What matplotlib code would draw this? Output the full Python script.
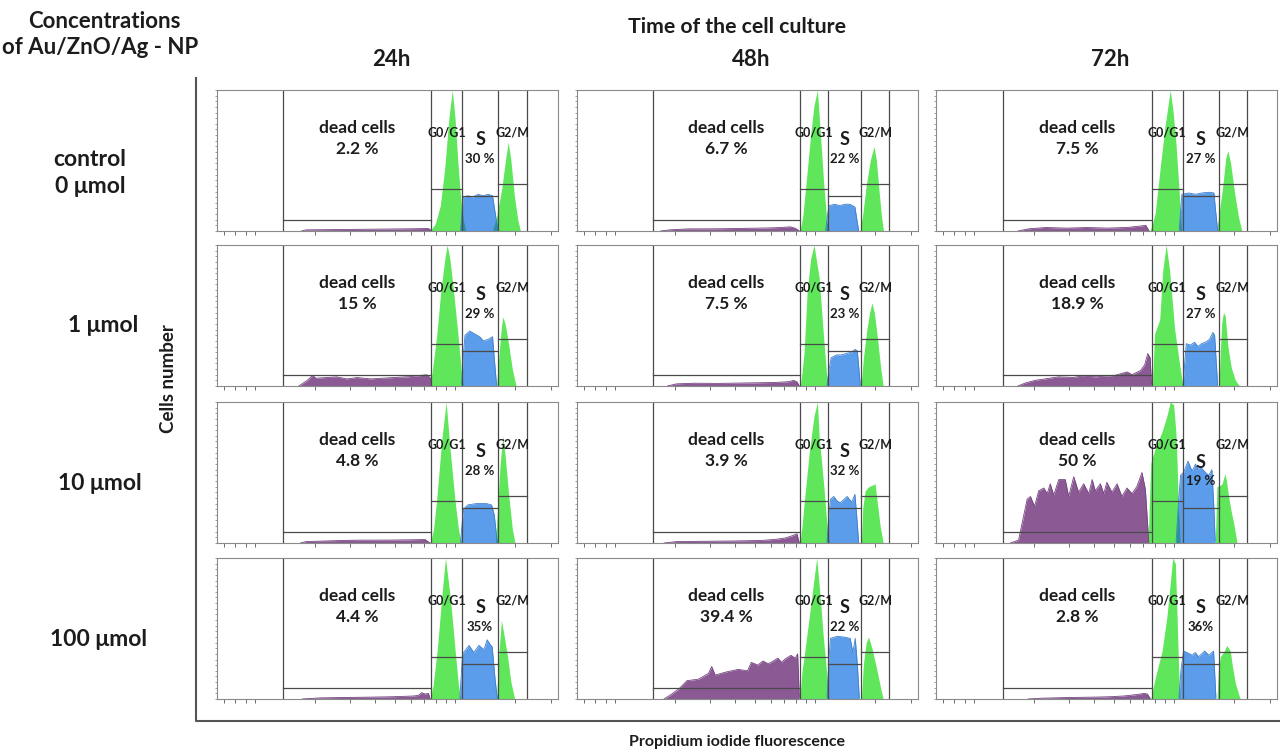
import numpy as np
import matplotlib.pyplot as plt
from matplotlib.lines import Line2D

plt.rcParams['font.family'] = ['Lato', 'DejaVu Sans']
plt.rcParams['font.weight'] = 'bold'

times = ['24h', '48h', '72h']
doses = ['control\n0 \u03bcmol', '1 \u03bcmol', '10 \u03bcmol', '100 \u03bcmol']

dead_labels = {'24h': ['2.2 %', '15 %', '4.8 %', '4.4 %'],
               '48h': ['6.7 %', '7.5 %', '3.9 %', '39.4 %'],
               '72h': ['7.5 %', '18.9 %', '50 %', '2.8 %']}
s_labels = {'24h': ['30 %', '29 %', '28 %', '35%'],
            '48h': ['22 %', '23 %', '32 %', '22 %'],
            '72h': ['27 %', '27 %', '19 %', '36%']}

# gate borders in channels: dead | G0/G1 | S | G2/M | end
gates = {'24h': [193, 628, 719, 824, 908],
         '48h': [222, 655, 736, 833, 916],
         '72h': [197, 632, 724, 829, 911]}
# height of the marker bars (% of max count): dead, G0/G1, S, G2/M
marker_levels = [7.5, 30, 25, 33]

# histogram outlines (channel, % of max count), rows = control, 1, 10, 100 umol
dead_24h = [
    [(248, 0), (260, 0.8), (350, 1), (450, 1.2), (550, 1.5), (620, 1.8), (630, 0)],
    [(240, 0), (265, 4), (280, 7.5), (290, 5.5), (320, 6), (350, 6.5), (380, 5), (410, 6), (450, 5),
     (480, 5.5), (520, 6), (560, 6.5), (600, 7.5), (615, 8), (625, 6), (630, 0)],
    [(245, 0), (260, 1), (320, 1.5), (400, 2), (480, 2), (560, 2.2), (610, 2.5), (625, 0)],
    [(250, 0), (300, 0.8), (400, 1.2), (500, 1.5), (570, 2), (590, 2.5), (600, 4.5), (610, 3.5), (620, 4), (625, 0)],
]
g1_24h = [
    [(625, 0), (640, 5), (655, 18), (668, 45), (680, 80), (690, 100), (698, 80), (706, 50), (714, 25), (722, 8), (730, 0)],
    [(626, 0), (632, 12), (644, 35), (657, 69), (668, 90), (675, 100), (683, 90), (693, 69), (708, 33), (716, 12), (722, 0)],
    [(626, 0), (635, 10), (644, 30), (659, 73), (672, 100), (683, 68), (698, 30), (708, 10), (716, 0)],
    [(625, 0), (634, 10), (646, 35), (660, 75), (670, 100), (685, 70), (700, 30), (708, 10), (715, 0)],
]
s_24h = [
    [(714, 0), (718, 12), (722, 24), (735, 25), (750, 24), (765, 26), (780, 25), (795, 26), (808, 25), (815, 14), (824, 0)],
    [(717, 0), (722, 20), (727, 36), (741, 39), (755, 37), (770, 35), (781, 32), (795, 33), (808, 35), (813, 20), (820, 0)],
    [(714, 0), (718, 12), (723, 24), (735, 27), (760, 28), (790, 28), (805, 27), (813, 20), (822, 0)],
    [(712, 0), (716, 15), (720, 32), (739, 38), (753, 33), (768, 38), (783, 35), (792, 42), (800, 39), (807, 37),
     (815, 15), (822, 0)],
]
g2_24h = [
    [(808, 0), (820, 10), (835, 30), (847, 52), (854, 63), (862, 50), (872, 25), (882, 8), (890, 0)],
    [(820, 0), (828, 25), (834, 42), (838, 49), (845, 44), (855, 30), (866, 12), (877, 0)],
    [(817, 0), (823, 25), (830, 55), (838, 76), (845, 62), (855, 35), (866, 10), (874, 0)],
    [(820, 0), (826, 30), (834, 56), (842, 45), (852, 30), (862, 12), (873, 0)],
]

dead_48h = [
    [(245, 0), (270, 0.8), (320, 1.5), (400, 1.5), (480, 1.8), (550, 2), (600, 2.5), (625, 3), (640, 2), (652, 0)],
    [(265, 0), (290, 1.5), (340, 2), (400, 1.8), (460, 2), (520, 2.2), (580, 2.5), (620, 3), (635, 4), (645, 3), (652, 0)],
    [(255, 0), (290, 1), (350, 1.2), (420, 1.3), (480, 1.5), (540, 1.8), (580, 2.5), (610, 3.5), (630, 5), (645, 6.5), (652, 0)],
    [(255, 0), (275, 3), (298, 7), (322, 13), (356, 14), (385, 18), (395, 23), (405, 17), (434, 19), (472, 21),
     (500, 20), (511, 26), (530, 24), (545, 27), (560, 25), (569, 26), (589, 29), (600, 26), (608, 28), (627, 31),
     (640, 29), (647, 32), (652, 0)],
]
g1_48h = [
    [(654, 0), (662, 10), (671, 32), (685, 68), (695, 89), (705, 100), (714, 68), (724, 32), (733, 6), (739, 0)],
    [(655, 0), (660, 10), (666, 24), (675, 67), (685, 90), (695, 100), (710, 77), (724, 32), (732, 8), (739, 0)],
    [(654, 0), (660, 12), (666, 28), (681, 64), (695, 90), (705, 100), (710, 76), (724, 40), (734, 10), (740, 0)],
    [(654, 0), (660, 20), (666, 30), (681, 58), (695, 85), (703, 100), (714, 70), (722, 45), (729, 27), (739, 0)],
]
s_48h = [
    [(729, 0), (734, 10), (739, 18), (755, 19), (770, 18), (785, 19), (800, 19), (815, 17), (826, 0)],
    [(733, 0), (738, 10), (745, 20), (760, 22), (775, 22), (790, 23), (805, 24), (815, 26), (822, 25), (831, 0)],
    [(733, 0), (737, 15), (743, 31), (753, 33), (762, 30), (772, 28.5), (792, 33), (806, 29), (815, 34.5), (820, 20), (826, 0)],
    [(733, 0), (738, 25), (743, 43), (763, 44.5), (782, 44), (801, 43), (809, 33), (816, 43), (822, 25), (828, 0)],
]
g2_48h = [
    [(830, 0), (838, 12), (848, 32), (860, 50), (871, 60), (878, 50), (886, 28), (893, 10), (899, 0)],
    [(833, 0), (840, 20), (850, 40), (858, 52), (865, 59), (872, 52), (882, 32), (891, 12), (898, 0)],
    [(834, 0), (838, 25), (845, 37), (856, 40), (866, 41), (874, 42), (880, 30), (889, 12), (898, 0)],
    [(834, 0), (840, 25), (848, 40), (855, 44), (866, 35), (880, 20), (892, 6), (898, 0)],
]

dead_72h = [
    [(240, 0), (270, 1.5), (320, 2.5), (380, 2), (440, 2.5), (500, 2), (560, 2.5), (600, 3.5), (615, 4), (625, 0)],
    [(240, 0), (260, 2), (290, 4), (320, 5), (358, 6.5), (400, 6), (426, 7), (470, 6.5), (524, 7.5), (560, 10),
     (575, 8), (600, 11), (612, 15), (621, 23), (628, 20), (632, 0)],
    [(218, 0), (242, 2), (257, 19), (267, 31), (277, 33), (289, 26), (301, 37), (316, 39), (326, 35), (335, 42),
     (345, 34), (360, 45), (379, 45), (389, 33), (404, 47), (418, 36), (433, 42), (448, 35), (458, 45), (467, 37),
     (482, 42), (492, 35), (501, 43), (516, 36), (531, 42), (545, 33), (560, 39), (575, 35), (589, 40), (604, 50),
     (614, 38), (624, 0)],
    [(270, 0), (300, 0.5), (370, 1), (440, 1.2), (500, 1.5), (545, 2), (585, 3), (610, 4), (620, 3.5), (629, 0)],
]
g1_72h = [
    [(627, 0), (635, 5), (643, 13), (658, 46), (672, 75), (687, 100), (695, 85), (702, 68), (712, 32), (720, 0)],
    [(635, 0), (638, 20), (641, 37), (656, 47), (665, 82), (675, 100), (685, 82), (700, 40), (714, 16), (724, 0)],
    [(622, 0), (626, 30), (630, 57), (643, 67), (663, 79), (677, 90), (687, 100), (697, 98), (703, 80), (707, 57),
     (711, 25), (716, 0)],
    [(630, 0), (643, 15), (663, 34), (677, 58), (687, 82), (694, 100), (702, 96), (707, 58), (711, 25), (715, 0)],
]
s_72h = [
    [(713, 0), (717, 14), (721, 26), (740, 27), (760, 26), (780, 27), (800, 27.5), (815, 27), (820, 14), (826, 0)],
    [(724, 0), (729, 15), (734, 30), (746, 29), (758, 31), (768, 28), (778, 30), (790, 31), (802, 33), (812, 38),
     (817, 36), (826, 0)],
    [(704, 0), (710, 25), (717, 48), (726, 50), (739, 58), (751, 51), (761, 56), (768, 52), (775, 54), (790, 50),
     (800, 48), (809, 52), (814, 30), (819, 0)],
    [(712, 0), (718, 20), (726, 34), (736, 33), (751, 31), (760, 33), (770, 30), (788, 34), (800, 31), (814, 34),
     (817, 20), (821, 0)],
]
g2_72h = [
    [(823, 0), (830, 12), (840, 30), (850, 52), (856, 57), (864, 48), (875, 28), (887, 10), (897, 0)],
    [(830, 0), (834, 25), (838, 45), (843, 52), (848, 50), (856, 28), (866, 13), (878, 4), (890, 0)],
    [(819, 0), (822, 25), (824, 40), (834, 41), (839, 42), (847, 49), (852, 44), (858, 33), (866, 22), (873, 14), (883, 0)],
    [(824, 0), (828, 20), (834, 30), (845, 34), (853, 38), (863, 34), (870, 22), (878, 11), (892, 0)],
]

hist = {'24h': (dead_24h, g1_24h, s_24h, g2_24h),
        '48h': (dead_48h, g1_48h, s_48h, g2_48h),
        '72h': (dead_72h, g1_72h, s_72h, g2_72h)}

purple = '#8B5A95'
green = '#5FE65B'
blue = '#5B9DEA'
teal = '#2B8F9C'
dark = '#4A4A4A'
gate_col = '#4A4A4A'
ink = '#1C1C1C'

# log-amplified channel axis: decade 1 at ch 111, one decade = 587 channels
tick_vals = [0.7, 0.8, 0.9, 1, 2, 3, 4, 5, 6, 7, 8, 9, 10, 20, 30]
xticks = 111 + 587 * np.log10(tick_vals)

W, H = 1280, 753
fig = plt.figure(figsize=(W / 100, H / 100), dpi=100)

col_left = [217, 577, 936]
row_top = [90, 245, 402, 558]
pw, ph = 341, 141

grid = np.linspace(0, 1000, 4001)


def curve(pts):
    x, y = np.array(pts, dtype=float).T
    return np.interp(grid, x, y, left=0, right=0)


for c, t in enumerate(times):
    dead_all, g1_all, s_all, g2_all = hist[t]
    gt = gates[t]
    for r in range(4):
        ax = fig.add_axes([col_left[c] / W, 1 - (row_top[r] + ph) / H, pw / W, ph / H])
        d = curve(dead_all[r])
        g1 = curve(g1_all[r])
        s = curve(s_all[r])
        g2 = curve(g2_all[r])

        ax.fill_between(grid, d, color=purple, lw=0)
        ax.plot(grid, np.where(d > 0, d, np.nan), color='#74447F', lw=0.6)
        ax.fill_between(grid, g1, color=green, lw=0)
        ax.fill_between(grid, g2, color=green, lw=0)
        ax.fill_between(grid, s, color=blue, lw=0)
        ax.plot(grid, np.where(s > 0, s, np.nan), color='#3F7FCC', lw=0.6)
        ax.fill_between(grid, np.minimum(d, g1), color=dark, lw=0)
        ax.fill_between(grid, np.minimum(g1, s), color=teal, lw=0)
        ax.fill_between(grid, np.minimum(g2, s), color=teal, lw=0)

        for gx in gt:
            ax.axvline(gx, color=gate_col, lw=0.9)
        for i, lvl in enumerate(marker_levels):
            ax.plot([gt[i], gt[i + 1]], [lvl, lvl], color=gate_col, lw=0.9)

        lowered = (t == '72h' and r == 2)
        ax.text((gt[0] + gt[1]) / 2, 73, 'dead cells', ha='center', va='center', fontsize=12.5, color=ink)
        ax.text((gt[0] + gt[1]) / 2, 58, dead_labels[t][r], ha='center', va='center', fontsize=12.5, color=ink)
        ax.text((gt[1] + gt[2]) / 2, 70, 'G0/G1', ha='center', va='center', fontsize=9, color=ink)
        ax.text((gt[3] + gt[4]) / 2, 70, 'G2/M', ha='center', va='center', fontsize=9, color=ink)
        ax.text((gt[2] + gt[3]) / 2, 57 if lowered else 65, 'S', ha='center', va='center', fontsize=13, color=ink)
        ax.text((gt[2] + gt[3]) / 2, 44 if lowered else 51, s_labels[t][r], ha='center', va='center',
                fontsize=9.5, color=ink)

        ax.set_xlim(0, 1000)
        ax.set_ylim(0, 100)
        ax.set_xticks(xticks)
        ax.set_yticks(np.arange(0, 101, 4))
        ax.tick_params(axis='x', length=3, width=0.6, color='#555555', labelbottom=False)
        ax.tick_params(axis='y', length=1.5, width=0.5, color='#777777', labelleft=False)
        for sp in ax.spines.values():
            sp.set_color('#8A8A8A')
            sp.set_linewidth(0.8)

# outer L frame
fig.add_artist(Line2D([196 / W, 196 / W, 1.0], [1 - 78 / H, 1 - 721 / H, 1 - 721 / H],
                      color='#555555', lw=1.5))

fig.text(104 / W, 1 - 22 / H, 'Concentrations', ha='center', va='center', fontsize=16, color=ink)
fig.text(100 / W, 1 - 48 / H, 'of Au/ZnO/Ag - NP', ha='center', va='center', fontsize=16, color=ink)
fig.text(737 / W, 1 - 27 / H, 'Time of the cell culture', ha='center', va='center', fontsize=15.3, color=ink)
for c, t in enumerate(times):
    fig.text((col_left[c] + pw / 2 + 4) / W, 1 - 60 / H, t, ha='center', va='center', fontsize=16, color=ink)

row_label_x = [90, 103, 100, 98]
row_label_y = [173, 325, 484, 640]
for r, lab in enumerate(doses):
    fig.text(row_label_x[r] / W, 1 - row_label_y[r] / H, lab, ha='center', va='center', fontsize=16.5,
             color=ink, linespacing=1.4)

fig.text(169 / W, 1 - 379 / H, 'Cells number', ha='center', va='center', rotation=90, fontsize=13.5, color=ink)
fig.text(737 / W, 1 - 742 / H, 'Propidium iodide fluorescence', ha='center', va='center', fontsize=11.5,
         color=ink)

fig.savefig('out.png', dpi=100)
